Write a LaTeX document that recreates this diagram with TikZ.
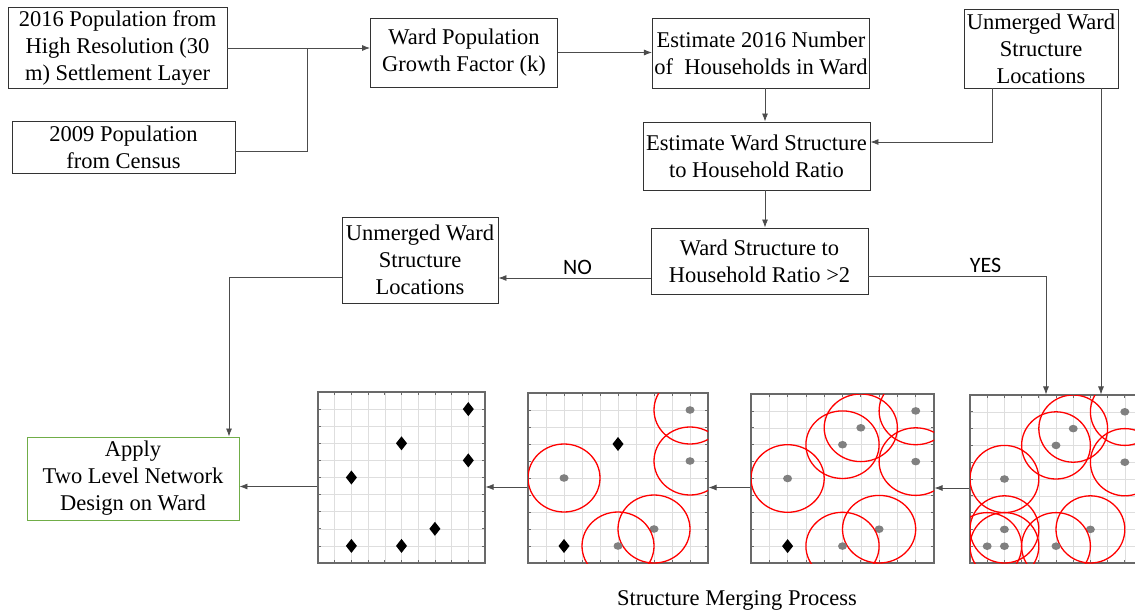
\documentclass[tikz,border=0pt]{standalone}
\usepackage{fontspec}
\setmainfont{Liberation Serif}
\newfontfamily\labelfont{Carlito}
\usetikzlibrary{arrows.meta, positioning, calc, fit}
\definecolor{boxGreen}{RGB}{112,173,71}
\definecolor{frameGray}{RGB}{105,105,105}
\definecolor{siteGray}{RGB}{128,128,128}

\begin{document}
\begin{tikzpicture}[x=1pt, y=-1pt,
  >={Latex[length=8pt, width=6pt]},
  font=\fontsize{22.5}{27}\selectfont,
  stepbox/.style={draw=black!80, line width=0.9pt, align=center, inner sep=2pt},
  link/.style={draw=black!70, line width=0.8pt},
  tag/.style={font=\labelfont\fontsize{22}{26}\selectfont, inner sep=3pt},
  gridline/.style={draw=black!13, line width=0.6pt},
  panelframe/.style={draw=frameGray, line width=1.1pt, inner sep=0pt},
  tickmark/.style={draw=frameGray, line width=0.8pt},
  buffer/.style={draw=red, line width=1.3pt},
  site/.style={fill=siteGray},
  bldg/.style={fill=black}]
  \useasboundingbox (0,0) rectangle (1135,615);

  % top row
  \node[stepbox, minimum width=219pt, minimum height=81pt] (pop16) at (117.5,48) {2016 Population from\\High Resolution (30\\m) Settlement Layer};
  \node[stepbox, minimum width=223pt, minimum height=52pt] (pop09) at (123.5,147.5) {2009 Population\\from Census};
  \node[stepbox, minimum width=187pt, minimum height=69pt] (growth) at (464,52.5) {Ward Population\\Growth Factor (k)};
  \node[stepbox, minimum width=216pt, minimum height=70pt] (hholds) at (761,53) {Estimate 2016 Number\\of\ \ Households in Ward};
  \node[stepbox, minimum width=154pt, minimum height=79pt] (locs) at (1041,48.5) {Unmerged Ward\\Structure\\Locations};

  % middle
  \node[stepbox, minimum width=227pt, minimum height=68pt] (ratio) at (756.5,156) {Estimate Ward Structure\\to Household Ratio};
  \node[stepbox, minimum width=217pt, minimum height=66pt] (check) at (759.5,261) {Ward Structure to\\Household Ratio >2};
  \node[stepbox, minimum width=156pt, minimum height=86pt] (unmerged) at (420,260) {Unmerged Ward\\Structure\\Locations};
  \node[stepbox, draw=boxGreen, minimum width=212pt, minimum height=83pt] (design) at (133,478.5) {Apply\\Two Level Network\\Design on Ward};

  % merging panels
  \foreach \n/\px/\cw/\ch/\bldgs/\sites in {
    1/318/16.7/17.1/{9/9,5/7,9/6,2/5,7/2,2/1,5/1}/{},
    2/528/18/17/{5/7,2/1}/{9/9,9/6,2/5,7/2,5/1},
    3/751/18.3/16.9/{2/1}/{9/9,6/8,5/7,9/6,2/5,7/2,5/1},
    4/970/17.2/16.8/{}/{9/9,6/8,5/7,9/6,2/5,7/2,2/2,1/1,2/1,5/1}} {
    \begin{scope}[shift={(\px,563)}, x=\cw pt, y=\ch pt]
      \foreach \i in {1,...,9} {
        \draw[gridline] (\i,0) -- (\i,10);
        \draw[gridline] (0,\i) -- (10,\i);
      }
      \node[panelframe, fit={(0,0) (10,10)}] (panel\n) {};
      \foreach \i in {1,...,9} {
        \draw[tickmark] (\i,0) -- ++(0,3pt) (\i,10) -- ++(0,-3pt);
        \draw[tickmark] (0,\i) -- ++(3pt,0) (10,\i) -- ++(-3pt,0);
      }
      \begin{scope}
        \clip (0,0) rectangle (10,10);
        \foreach \sx/\sy in \sites {
          \draw[buffer] (\sx,\sy) circle[radius=2];
          \fill[site] (\sx,\sy) circle[x radius=4.5pt, y radius=3.8pt];
        }
      \end{scope}
      \foreach \bx/\by in \bldgs
        \fill[bldg] (\bx,\by) +(0,7pt) -- +(5.5pt,0) -- +(0,-7pt) -- +(-5.5pt,0) -- cycle;
    \end{scope}
  }
  \node (caption) at (737,600) {Structure Merging Process};

  % connectors
  \coordinate (join) at ([xshift=80pt]pop16.east);
  \coordinate (spine) at (765,0);
  \draw[link, ->] (pop16.east) -- (pop16.east -| growth.west);
  \draw[link] ([yshift=-4pt]pop09.east) -| (join);
  \draw[link, ->] (growth.east) -- (growth.east -| hholds.west);
  \draw[link, ->] (hholds.south -| spine) -- (ratio.north -| spine);
  \draw[link, ->] ([xshift=-49pt]locs.south) |- ([yshift=14pt]ratio.east);
  \draw[link, ->] (ratio.south -| spine) -- (check.north -| spine);
  \draw[link, ->] ([yshift=-17pt]check.west) -- ([yshift=-17pt]check.west -| unmerged.east)
    node[tag, pos=0.48, above] {NO};
  \draw[link, ->] ([yshift=-15pt]check.east) -| ([xshift=-10pt]panel4.north)
    node[tag, pos=0.33, above] {YES};
  \draw[link, ->] ([xshift=60pt]locs.south) -- ([xshift=60pt]locs.south |- panel4.north);
  \draw[link, ->] ([yshift=-17pt]unmerged.west) -| ([xshift=96pt]design.north);
  \draw[link, ->] ([yshift=-9pt]panel4.west) -- ([yshift=-9pt]panel4.west -| panel3.east);
  \draw[link, ->] ([yshift=-9pt]panel3.west) -- ([yshift=-9pt]panel3.west -| panel2.east);
  \draw[link, ->] ([yshift=-9pt]panel2.west) -- ([yshift=-9pt]panel2.west -| panel1.east);
  \draw[link, ->] ([yshift=-9pt]panel1.west) -- ([yshift=-9pt]panel1.west -| design.east);
\end{tikzpicture}
\end{document}
